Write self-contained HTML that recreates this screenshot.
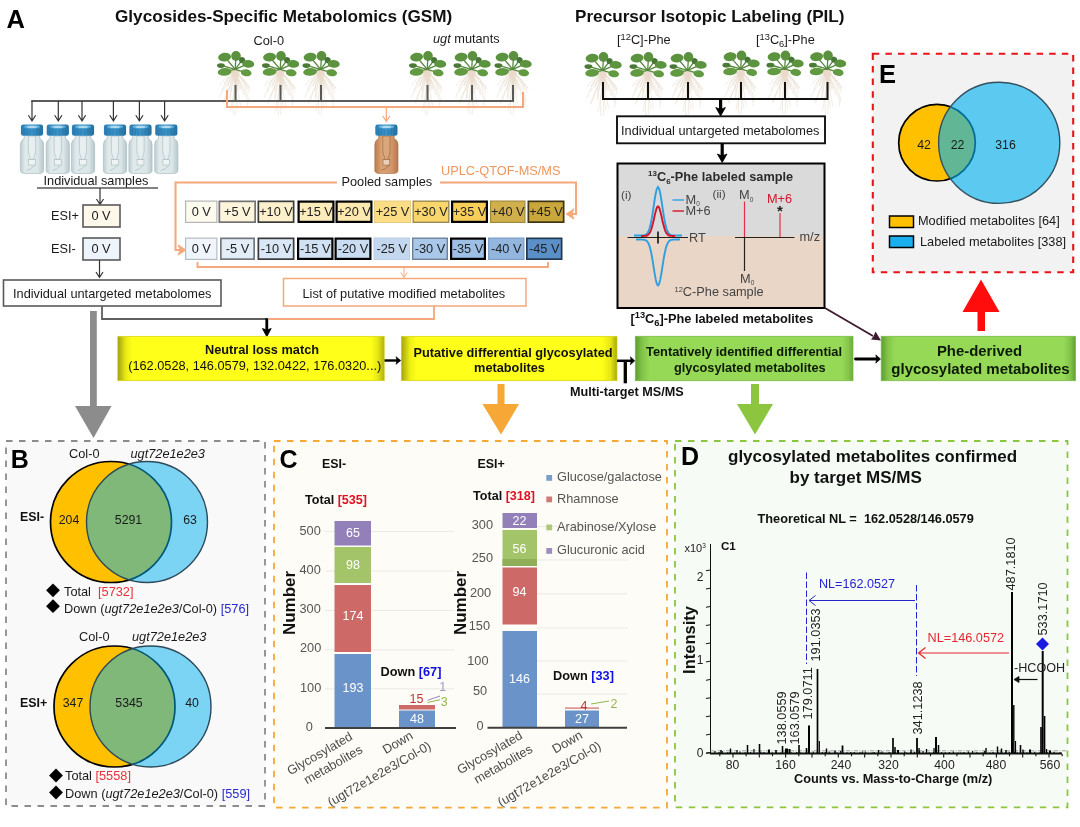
<!DOCTYPE html>
<html lang="en"><head><meta charset="utf-8"><title>GSM and PIL workflow</title>
<style>
html,body{margin:0;padding:0;background:#fff;}
svg{display:block;}
text{font-family:"Liberation Sans",sans-serif;}
</style></head><body>
<svg width="1080" height="827" viewBox="0 0 1080 827">
<defs>
<linearGradient id="gy1" x1="0" x2="1" y1="0" y2="0">
 <stop offset="0" stop-color="#a0a012"/><stop offset="0.03" stop-color="#eaea14"/><stop offset="0.055" stop-color="#ffff1a"/>
 <stop offset="0.95" stop-color="#ffff1a"/><stop offset="0.975" stop-color="#e8e814"/><stop offset="1" stop-color="#b0b012"/></linearGradient>
<linearGradient id="gy2" x1="0" x2="1" y1="0" y2="0">
 <stop offset="0" stop-color="#a3a312"/><stop offset="0.04" stop-color="#eeee14"/><stop offset="0.07" stop-color="#ffff1a"/>
 <stop offset="0.93" stop-color="#ffff1a"/><stop offset="0.97" stop-color="#e6e614"/><stop offset="1" stop-color="#a8a812"/></linearGradient>
<linearGradient id="gg1" x1="0" x2="1" y1="0" y2="0">
 <stop offset="0" stop-color="#5c9c33"/><stop offset="0.03" stop-color="#80c247"/><stop offset="0.065" stop-color="#95d957"/>
 <stop offset="0.95" stop-color="#95d957"/><stop offset="0.98" stop-color="#84c54a"/><stop offset="1" stop-color="#6aaa3a"/></linearGradient>
<linearGradient id="gg2" x1="0" x2="1" y1="0" y2="0">
 <stop offset="0" stop-color="#5c9c33"/><stop offset="0.035" stop-color="#84c54a"/><stop offset="0.07" stop-color="#95d957"/>
 <stop offset="0.94" stop-color="#95d957"/><stop offset="0.975" stop-color="#80c247"/><stop offset="1" stop-color="#5f9f35"/></linearGradient>
<linearGradient id="gcap" x1="0" x2="1" y1="0" y2="0">
 <stop offset="0" stop-color="#2a7db3"/><stop offset="0.5" stop-color="#3a93c9"/><stop offset="1" stop-color="#23709f"/></linearGradient>
<linearGradient id="gbody" x1="0" x2="1" y1="0" y2="0">
 <stop offset="0" stop-color="#bccdd1"/><stop offset="0.2" stop-color="#e0eaeb"/><stop offset="0.75" stop-color="#dbe6e8"/><stop offset="1" stop-color="#b7c8cc"/></linearGradient>
<linearGradient id="gbodyo" x1="0" x2="1" y1="0" y2="0">
 <stop offset="0" stop-color="#bd7d4d"/><stop offset="0.3" stop-color="#d9a377"/><stop offset="0.75" stop-color="#d0956a"/><stop offset="1" stop-color="#b87646"/></linearGradient>

<g id="plant"><path d="M0,2C-3.6,5.9 -13.9,12.2 -15.3,17.0 M0,2C-3.9,4.8 -7.1,10.0 -9.6,13.9 M0,2C-0.3,5.7 -10.9,11.6 -11.3,16.2 M0,2C-2.0,7.8 -14.2,16.0 -12.7,22.2 M0,2C-3.1,10.2 -13.8,20.9 -16.0,29.0 M0,2C-0.5,6.2 -6.9,12.8 -7.9,17.7 M0,2C-0.0,6.1 -7.3,12.5 -7.5,17.4 M0,2C-1.6,12.2 -9.4,25.0 -12.5,34.7 M0,2C-2.5,11.8 -8.3,24.3 -11.5,33.8 M0,2C-2.4,7.8 -6.4,16.0 -4.9,22.2 M0,2C-0.5,10.7 -6.1,21.9 -5.2,30.5 M0,2C-1.6,10.3 -4.2,21.2 -4.9,29.4 M0,2C-0.2,14.8 -2.0,30.4 -4.8,42.2 M0,2C0.3,16.1 -3.7,33.1 -1.7,46.0 M0,2C1.7,16.1 0.9,33.1 0.5,45.9 M0,2C1.6,9.6 1.6,19.8 1.2,27.5 M0,2C1.7,8.4 4.1,17.3 1.2,24.0 M0,2C0.3,14.2 1.0,29.2 3.3,40.6 M0,2C2.6,13.4 2.8,27.5 5.8,38.2 M0,2C1.8,7.4 3.4,15.2 4.6,21.1 M0,2C2.4,13.3 14.5,27.3 12.1,37.9 M0,2C1.6,7.2 2.8,14.9 6.0,20.7 M0,2C2.2,9.2 6.4,18.9 8.9,26.2 M0,2C1.9,11.8 15.2,24.2 13.1,33.7 M0,2C2.1,7.5 11.0,15.4 11.5,21.4 M0,2C3.0,8.4 13.9,17.3 13.9,24.0 M0,2C2.5,7.1 14.6,14.7 13.9,20.4 M0,2C4.2,6.4 11.1,13.1 11.6,18.3 M0,2C1.5,4.5 9.1,9.3 9.1,12.9 M0,2C3.6,7.0 12.2,14.4 15.6,20.1" fill="none" stroke="#e6dacb" stroke-width="0.7" opacity="0.75"/><path d="M-3.500,2Q-1,12 0,24Q1,12 3.500,2Z" fill="#ead9c8" opacity="0.8"/><ellipse cx="0" cy="4.500" rx="4.300" ry="3.800" fill="#ecd8cb" opacity="0.8"/><line x1="0" y1="0.500" x2="-7.9" y2="-8.8" stroke="#55883b" stroke-width="1.3" stroke-linecap="round"/><line x1="0" y1="0.500" x2="0.6" y2="-9.6" stroke="#55883b" stroke-width="1.3" stroke-linecap="round"/><line x1="0" y1="0.500" x2="5.2" y2="-6.5" stroke="#55883b" stroke-width="1.3" stroke-linecap="round"/><line x1="0" y1="0.500" x2="9.8" y2="-3.7" stroke="#55883b" stroke-width="1.3" stroke-linecap="round"/><line x1="0" y1="0.500" x2="-10.7" y2="-2.4" stroke="#55883b" stroke-width="1.3" stroke-linecap="round"/><line x1="0" y1="0.500" x2="-7.9" y2="2.3" stroke="#55883b" stroke-width="1.3" stroke-linecap="round"/><line x1="0" y1="0.500" x2="8.2" y2="3.0" stroke="#55883b" stroke-width="1.3" stroke-linecap="round"/><ellipse cx="-10.6" cy="-11.7" rx="6.5" ry="4.4" fill="#5c933f" transform="rotate(-8 -10.6 -11.7)"/><ellipse cx="0.8" cy="-12.8" rx="4.8" ry="5.0" fill="#5a903e" transform="rotate(0 0.8 -12.8)"/><ellipse cx="6.9" cy="-8.7" rx="3.0" ry="3.0" fill="#487637" transform="rotate(20 6.9 -8.7)"/><ellipse cx="13.0" cy="-4.9" rx="6.0" ry="3.9" fill="#5c933f" transform="rotate(5 13.0 -4.9)"/><ellipse cx="-14.3" cy="-3.2" rx="3.9" ry="2.4" fill="#4b7a37" transform="rotate(0 -14.3 -3.2)"/><ellipse cx="-10.6" cy="3.1" rx="6.9" ry="3.8" fill="#629a42" transform="rotate(-5 -10.6 3.1)"/><ellipse cx="11.0" cy="4.0" rx="5.4" ry="3.5" fill="#629a42" transform="rotate(8 11.0 4.0)"/></g>
<g id="vial"><path d="M-7.8,10L-7.8,14.500Q-11.6,16.500 -11.6,20.500L-11.6,46.500Q-11.6,49.300 -7,49.500L7,49.500Q11.600,49.300 11.600,46.500L11.600,20.500Q11.600,16.500 7.800,14.500L7.800,10Z" fill="url(#gbody)" stroke="#a3b6bb" stroke-width="0.6"/><path d="M-3.600,12L-3.600,27Q-3.400,31 -1.700,33.500L-1.700,35.500L1.700,35.500L1.700,33.500Q3.400,31 3.600,27L3.600,12Z" fill="#eef4f5" fill-opacity="0.55" stroke="#a3b5ba" stroke-width="0.55"/><rect x="-3.400" y="35.500" width="6.800" height="5.500" fill="#ffffff" fill-opacity="0.5" stroke="#a3b5ba" stroke-width="0.55"/><path d="M-5.500,46.500Q-1,45.500 2.500,41.500" fill="none" stroke="#a3b5ba" stroke-width="0.6"/><rect x="-11.100" y="0.500" width="22.200" height="11.300" rx="2.400" fill="url(#gcap)"/><ellipse cx="0" cy="2.700" rx="8" ry="1.700" fill="#62b0da"/><ellipse cx="0" cy="2.900" rx="5" ry="1" fill="#b5daee"/><path d="M-8,5V11M-5,5.500V11.300M-2,5.800V11.500M1.500,5.800V11.500M5,5.500V11.300M8,5V11" stroke="#1f6896" stroke-width="0.6" opacity="0.55"/></g>
<g id="vialo"><path d="M-7.8,10L-7.8,14.500Q-11.6,16.500 -11.6,20.500L-11.6,46.500Q-11.6,49.300 -7,49.500L7,49.500Q11.600,49.300 11.600,46.500L11.600,20.500Q11.600,16.500 7.800,14.500L7.800,10Z" fill="url(#gbodyo)" stroke="#ad6c3e" stroke-width="0.6"/><path d="M-3.600,12L-3.600,27Q-3.400,31 -1.700,33.500L-1.700,35.500L1.700,35.500L1.700,33.500Q3.400,31 3.600,27L3.600,12Z" fill="#dfae85" fill-opacity="0.55" stroke="#9a5c30" stroke-width="0.55"/><rect x="-3.400" y="35.500" width="6.800" height="5.500" fill="#ffffff" fill-opacity="0.5" stroke="#9a5c30" stroke-width="0.55"/><path d="M-5.500,46.500Q-1,45.500 2.500,41.500" fill="none" stroke="#9a5c30" stroke-width="0.6"/><rect x="-11.100" y="0.500" width="22.200" height="11.300" rx="2.400" fill="url(#gcap)"/><ellipse cx="0" cy="2.700" rx="8" ry="1.700" fill="#62b0da"/><ellipse cx="0" cy="2.900" rx="5" ry="1" fill="#b5daee"/><path d="M-8,5V11M-5,5.500V11.300M-2,5.800V11.500M1.500,5.800V11.500M5,5.500V11.300M8,5V11" stroke="#1f6896" stroke-width="0.6" opacity="0.55"/></g>
</defs>
<rect x="0" y="0" width="1080" height="827" fill="#ffffff"/>
<text x="6.5" y="27.5" font-size="25.5" fill="#000" font-weight="bold" >A</text>
<text x="115" y="22" font-size="17.15" fill="#111" font-weight="bold" >Glycosides-Specific Metabolomics (GSM)</text>
<text x="575" y="22" font-size="17.15" fill="#111" font-weight="bold" >Precursor Isotopic Labeling (PIL)</text>
<text x="253.5" y="44.6" font-size="12.75" fill="#1a1a1a" >Col-0</text>
<text x="433" y="43" font-size="12.75" fill="#1a1a1a" ><tspan font-style="italic">ugt</tspan> mutants</text>
<use href="#plant" x="235.2" y="68.8"/>
<use href="#plant" x="280.2" y="68.8"/>
<use href="#plant" x="320.7" y="68.8"/>
<use href="#plant" x="427.2" y="68.8"/>
<use href="#plant" x="471.7" y="68.8"/>
<use href="#plant" x="512.7" y="68.8"/>
<path d="M31.2,101H513" fill="none" stroke="#5c5c5c" stroke-width="1.9"/>
<line x1="235.5" y1="85" x2="235.5" y2="102" stroke="#595959" stroke-width="2"/>
<line x1="280.5" y1="85" x2="280.5" y2="102" stroke="#595959" stroke-width="2"/>
<line x1="321" y1="85" x2="321" y2="102" stroke="#595959" stroke-width="2"/>
<line x1="427.5" y1="85" x2="427.5" y2="102" stroke="#595959" stroke-width="2"/>
<line x1="472" y1="85" x2="472" y2="102" stroke="#595959" stroke-width="2"/>
<line x1="513" y1="85" x2="513" y2="102" stroke="#595959" stroke-width="2"/>
<path d="M32,101V120.500M28.4,115.300L32,121L35.6,115.300" fill="none" stroke="#333" stroke-width="1.2"/>
<path d="M58.3,101V120.500M54.699999999999996,115.300L58.3,121L61.9,115.300" fill="none" stroke="#333" stroke-width="1.2"/>
<path d="M82,101V120.500M78.4,115.300L82,121L85.6,115.300" fill="none" stroke="#333" stroke-width="1.2"/>
<path d="M113.4,101V120.500M109.80000000000001,115.300L113.4,121L117.0,115.300" fill="none" stroke="#333" stroke-width="1.2"/>
<path d="M139.4,101V120.500M135.8,115.300L139.4,121L143.0,115.300" fill="none" stroke="#333" stroke-width="1.2"/>
<path d="M164.6,101V120.500M161.0,115.300L164.6,121L168.2,115.300" fill="none" stroke="#333" stroke-width="1.2"/>
<use href="#vial" x="32" y="124"/>
<use href="#vial" x="57.8" y="124"/>
<use href="#vial" x="83" y="124"/>
<use href="#vial" x="115" y="124"/>
<use href="#vial" x="140.5" y="124"/>
<use href="#vial" x="166.3" y="124"/>
<text x="43.5" y="184.5" font-size="12.75" fill="#1a1a1a" >Individual samples</text>
<line x1="37" y1="188" x2="158" y2="188" stroke="#595959" stroke-width="1.6"/>
<path d="M100,188V204M96.500,199L100,204.500L103.500,199" fill="none" stroke="#333" stroke-width="1.2"/>
<text x="51" y="219.8" font-size="12.75" fill="#1a1a1a" >ESI+</text>
<rect x="83" y="205" width="37" height="22" fill="#fdf8e9" stroke="#595959" stroke-width="1.6"/>
<text x="101" y="220" font-size="12.75" text-anchor="middle" fill="#1a1a1a" >0 V</text>
<text x="51" y="252.5" font-size="12.75" fill="#1a1a1a" >ESI-</text>
<rect x="83" y="238" width="37" height="22" fill="#eef4fb" stroke="#595959" stroke-width="1.6"/>
<text x="101" y="253" font-size="12.75" text-anchor="middle" fill="#1a1a1a" >0 V</text>
<path d="M99.500,260V277M96,272L99.500,277.500L103,272" fill="none" stroke="#333" stroke-width="1.2"/>
<rect x="3.500" y="280" width="217.500" height="26" fill="#fff" stroke="#595959" stroke-width="1.6"/>
<text x="13" y="297.8" font-size="12.75" fill="#1a1a1a" >Individual untargeted metabolomes</text>
<path d="M102,306V319H267" fill="none" stroke="#5e5e5e" stroke-width="1.8"/>
<path d="M227,90V107H523V92" fill="none" stroke="#f4a87c" stroke-width="2"/>
<path d="M386.300,107V121M382.800,116L386.300,121.500L389.800,116" fill="none" stroke="#f4a87c" stroke-width="1.2"/>
<use href="#vialo" x="386.400" y="124"/>
<text x="341.5" y="186" font-size="12.75" fill="#1a1a1a" >Pooled samples</text>
<text x="441" y="175.3" font-size="12.75" fill="#f0965f" >UPLC-QTOF-MS/MS</text>
<path d="M337,182.500H175.500V250H184" fill="none" stroke="#f4a87c" stroke-width="2.100"/>
<path d="M178,244.800L186,250L178,255.200L180,250Z" fill="#f4a87c" stroke="#f4a87c" stroke-width="0.800" stroke-linejoin="round"/>
<path d="M440,182.500H576V214H568" fill="none" stroke="#f4a87c" stroke-width="2.100"/>
<path d="M574,208.800L566,214L574,219.200L572,214Z" fill="#f4a87c" stroke="#f4a87c" stroke-width="0.800" stroke-linejoin="round"/>
<rect x="185.60" y="201.10" width="31.30" height="21.30" fill="#fdfaee" stroke="#b5b5b5" stroke-width="1.2"/>
<text x="201.25" y="216.3" font-size="12.75" text-anchor="middle" fill="#222" >0 V</text>
<rect x="219.35" y="201.35" width="35.80" height="20.80" fill="#fdf4dc" stroke="#727272" stroke-width="1.7"/>
<text x="237.25" y="216.3" font-size="12.75" text-anchor="middle" fill="#222" >+5 V</text>
<rect x="258.35" y="201.35" width="35.30" height="20.80" fill="#fdf1cd" stroke="#3a3a3a" stroke-width="1.7"/>
<text x="276.0" y="216.3" font-size="12.75" text-anchor="middle" fill="#222" >+10 V</text>
<rect x="298.60" y="201.60" width="34.80" height="20.30" fill="#fdecbb" stroke="#000" stroke-width="2.2"/>
<text x="316.0" y="216.3" font-size="12.75" text-anchor="middle" fill="#222" >+15 V</text>
<rect x="336.60" y="201.60" width="34.80" height="20.30" fill="#fde9b0" stroke="#000" stroke-width="2.2"/>
<text x="354.0" y="216.3" font-size="12.75" text-anchor="middle" fill="#222" >+20 V</text>
<rect x="374.50" y="201.00" width="36.00" height="21.50" fill="#fbdd85" stroke="#e8cd80" stroke-width="1"/>
<text x="392.5" y="216.3" font-size="12.75" text-anchor="middle" fill="#222" >+25 V</text>
<rect x="413.20" y="201.20" width="35.60" height="21.10" fill="#f9d66c" stroke="#9a8a55" stroke-width="1.4"/>
<text x="431.0" y="216.3" font-size="12.75" text-anchor="middle" fill="#222" >+30 V</text>
<rect x="452.10" y="201.60" width="34.80" height="20.30" fill="#f7cf58" stroke="#000" stroke-width="2.2"/>
<text x="469.5" y="216.3" font-size="12.75" text-anchor="middle" fill="#222" >+35 V</text>
<rect x="490.60" y="201.10" width="34.30" height="21.30" fill="#d0af4c" stroke="#a08a3c" stroke-width="1.2"/>
<text x="507.75" y="216.3" font-size="12.75" text-anchor="middle" fill="#222" >+40 V</text>
<rect x="528.35" y="201.35" width="35.30" height="20.80" fill="#c9a73b" stroke="#3f3515" stroke-width="1.7"/>
<text x="546.0" y="216.3" font-size="12.75" text-anchor="middle" fill="#222" >+45 V</text>
<rect x="185.60" y="238.10" width="31.30" height="21.30" fill="#f0f5fb" stroke="#b5bcc5" stroke-width="1.2"/>
<text x="201.25" y="253.3" font-size="12.75" text-anchor="middle" fill="#222" >0 V</text>
<rect x="220.85" y="238.35" width="33.30" height="20.80" fill="#e3edf8" stroke="#72777e" stroke-width="1.7"/>
<text x="237.5" y="253.3" font-size="12.75" text-anchor="middle" fill="#222" >-5 V</text>
<rect x="258.35" y="238.35" width="35.30" height="20.80" fill="#d9e7f6" stroke="#3a3a3a" stroke-width="1.7"/>
<text x="276.0" y="253.3" font-size="12.75" text-anchor="middle" fill="#222" >-10 V</text>
<rect x="298.10" y="238.60" width="34.30" height="20.30" fill="#d0e1f4" stroke="#000" stroke-width="2.2"/>
<text x="315.25" y="253.3" font-size="12.75" text-anchor="middle" fill="#222" >-15 V</text>
<rect x="335.60" y="238.60" width="34.80" height="20.30" fill="#c9dcf2" stroke="#000" stroke-width="2.2"/>
<text x="353.0" y="253.3" font-size="12.75" text-anchor="middle" fill="#222" >-20 V</text>
<rect x="374.00" y="238.00" width="35.50" height="21.50" fill="#c3d8ef" stroke="#b9cde4" stroke-width="1"/>
<text x="391.75" y="253.3" font-size="12.75" text-anchor="middle" fill="#222" >-25 V</text>
<rect x="412.70" y="238.20" width="34.60" height="21.10" fill="#a9c7e9" stroke="#6f8196" stroke-width="1.4"/>
<text x="430.0" y="253.3" font-size="12.75" text-anchor="middle" fill="#222" >-30 V</text>
<rect x="451.10" y="238.60" width="33.80" height="20.30" fill="#9dbfe6" stroke="#000" stroke-width="2.2"/>
<text x="468.0" y="253.3" font-size="12.75" text-anchor="middle" fill="#222" >-35 V</text>
<rect x="488.60" y="238.10" width="35.30" height="21.30" fill="#92b6de" stroke="#7d9fc6" stroke-width="1.2"/>
<text x="506.25" y="253.3" font-size="12.75" text-anchor="middle" fill="#222" >-40 V</text>
<rect x="526.85" y="238.35" width="34.80" height="20.80" fill="#5b8fc7" stroke="#22384f" stroke-width="1.7"/>
<text x="544.25" y="253.3" font-size="12.75" text-anchor="middle" fill="#222" >-45 V</text>
<path d="M197.500,262V267H548V262" fill="none" stroke="#f4a87c" stroke-width="1.900"/>
<path d="M404,267V277M400.800,272.500L404,277.500L407.200,272.500" fill="none" stroke="#f4a87c" stroke-width="1"/>
<rect x="283.500" y="278.500" width="242.500" height="27.500" fill="#fff" stroke="#f4a87c" stroke-width="1.5"/>
<text x="302.5" y="297.5" font-size="12.75" fill="#1a1a1a" >List of putative modified metabolites</text>
<path d="M434,306V319H268.500" fill="none" stroke="#f4a87c" stroke-width="1.8"/>
<path d="M266.800,318.200V330" stroke="#000" stroke-width="2.800" fill="none"/><path d="M262.400,328.500L266.800,336.800L271.200,328.500L266.800,330Z" fill="#000" stroke="#000" stroke-width="0.8" stroke-linejoin="round"/>
<use href="#plant" x="602.7" y="69.8"/>
<use href="#plant" x="647.7" y="69.8"/>
<use href="#plant" x="687.7" y="69.8"/>
<use href="#plant" x="740.7" y="68.4"/>
<use href="#plant" x="784.7" y="68.4"/>
<use href="#plant" x="827.2" y="68.4"/>
<path d="M603,82V99.1H827.500V82" fill="none" stroke="#111" stroke-width="2"/>
<line x1="648" y1="82" x2="648" y2="99" stroke="#111" stroke-width="2"/>
<line x1="688" y1="82" x2="688" y2="99" stroke="#111" stroke-width="2"/>
<line x1="741" y1="82" x2="741" y2="99" stroke="#111" stroke-width="2"/>
<line x1="785" y1="82" x2="785" y2="99" stroke="#111" stroke-width="2"/>
<path d="M720.600,99V110" stroke="#000" stroke-width="3.200"/><path d="M715.800,107.500L720.600,116L725.400,107.500L720.600,109.500Z" fill="#000" stroke="#000" stroke-width="0.8" stroke-linejoin="round"/>
<text x="617" y="44" font-size="12.75" fill="#1a1a1a" >[<tspan font-size="9.3" dy="-4.500">12</tspan><tspan dy="4.500">C]-Phe</tspan></text>
<text x="756" y="44" font-size="12.75" fill="#1a1a1a" >[<tspan font-size="9.3" dy="-4.500">13</tspan><tspan dy="4.500">C</tspan><tspan font-size="9.3" dy="3">6</tspan><tspan dy="-3">]-Phe</tspan></text>
<rect x="617" y="116.300" width="208" height="27" fill="#fff" stroke="#111" stroke-width="1.9"/>
<text x="621" y="135.3" font-size="12.75" fill="#1a1a1a" >Individual untargeted metabolomes</text>
<path d="M722.200,143.500V156" stroke="#000" stroke-width="3.200"/><path d="M717.400,154L722.200,162.500L727,154L722.200,156Z" fill="#000" stroke="#000" stroke-width="0.8" stroke-linejoin="round"/>
<rect x="617.500" y="163.500" width="207" height="72.500" fill="#dadada"/>
<rect x="617.500" y="236" width="207" height="72" fill="#e9d6c6"/>
<rect x="617.500" y="163.500" width="207" height="144.500" fill="none" stroke="#000" stroke-width="2"/>
<text x="648" y="180.5" font-size="12.75" fill="#2b2b2b" font-weight="bold" ><tspan font-size="8" dy="-4.500">13</tspan><tspan dy="4.500">C</tspan><tspan font-size="8" dy="3">6</tspan><tspan dy="-3">-Phe labeled sample</tspan></text>
<text x="621" y="198.5" font-size="11.8" fill="#444" >(i)</text>
<text x="712.5" y="198" font-size="11.8" fill="#444" >(ii)</text>
<path d="M634.0,235.5L635.2,235.5L636.4,235.5L637.6,235.5L638.8,235.5L640.0,235.5L641.2,235.5L642.4,235.4L643.6,235.3L644.8,235.1L646.0,234.5L647.2,233.4L648.4,231.5L649.6,228.3L650.8,223.6L652.0,217.2L653.2,209.5L654.4,201.3L655.6,194.0L656.8,188.9L658.0,187.0L659.2,188.9L660.4,194.0L661.6,201.3L662.8,209.5L664.0,217.2L665.2,223.6L666.4,228.3L667.6,231.5L668.8,233.4L670.0,234.5L671.2,235.1L672.4,235.3L673.6,235.4L674.8,235.5L676.0,235.5L677.2,235.5L678.4,235.5L679.6,235.5L680.8,235.5L682.0,235.5" fill="none" stroke="#2f9fe0" stroke-width="1.9"/>
<path d="M641.0,236.0L641.9,236.0L642.7,236.0L643.5,236.0L644.4,235.9L645.2,235.9L646.1,235.7L647.0,235.5L647.8,235.0L648.6,234.3L649.5,233.3L650.4,231.7L651.2,229.5L652.0,226.8L652.9,223.5L653.8,219.7L654.6,215.8L655.5,212.2L656.3,209.2L657.1,207.2L658.0,206.5L658.9,207.2L659.7,209.2L660.5,212.2L661.4,215.8L662.2,219.7L663.1,223.5L664.0,226.8L664.8,229.5L665.6,231.7L666.5,233.3L667.4,234.3L668.2,235.0L669.0,235.5L669.9,235.7L670.8,235.9L671.6,235.9L672.5,236.0L673.3,236.0L674.1,236.0L675.0,236.0" fill="none" stroke="#d4142a" stroke-width="1.9"/>
<path d="M636.0,239.5L637.1,239.5L638.2,239.5L639.3,239.5L640.4,239.5L641.5,239.5L642.6,239.6L643.7,239.7L644.8,239.9L645.9,240.4L647.0,241.2L648.1,242.7L649.2,245.2L650.3,248.8L651.4,253.7L652.5,259.8L653.6,266.8L654.7,273.8L655.8,279.9L656.9,284.0L658.0,285.5L659.1,284.0L660.2,279.9L661.3,273.8L662.4,266.8L663.5,259.8L664.6,253.7L665.7,248.8L666.8,245.2L667.9,242.7L669.0,241.2L670.1,240.4L671.2,239.9L672.3,239.7L673.4,239.6L674.5,239.5L675.6,239.5L676.7,239.5L677.8,239.5L678.9,239.5L680.0,239.5" fill="none" stroke="#2f9fe0" stroke-width="1.9"/>
<line x1="627.500" y1="237.500" x2="688" y2="237.500" stroke="#222" stroke-width="1.1"/>
<line x1="658" y1="231.500" x2="658" y2="243.500" stroke="#111" stroke-width="1.6"/>
<line x1="672.500" y1="200" x2="684" y2="200" stroke="#2f9fe0" stroke-width="1.4"/>
<line x1="672.500" y1="211" x2="684" y2="211" stroke="#d4142a" stroke-width="1.4"/>
<text x="685.5" y="203.5" font-size="12.75" fill="#444" >M<tspan font-size="6.500" dy="2.500">0</tspan></text>
<text x="685.5" y="215" font-size="12.75" fill="#444" >M+6</text>
<text x="689" y="241.5" font-size="12.75" fill="#444" >RT</text>
<text x="739" y="199" font-size="12.75" fill="#444" >M<tspan font-size="6.500" dy="2.500">0</tspan></text>
<text x="767" y="202.5" font-size="12.75" fill="#d4142a" >M+6</text>
<text x="780" y="215.5" font-size="15" text-anchor="middle" fill="#222" font-weight="bold" >*</text>
<line x1="744.500" y1="201.500" x2="744.500" y2="237.500" stroke="#e0304a" stroke-width="1.2"/>
<line x1="780" y1="213" x2="780" y2="237.500" stroke="#e0304a" stroke-width="1.2"/>
<line x1="744.500" y1="237.500" x2="744.500" y2="271" stroke="#222" stroke-width="1.2"/>
<line x1="735" y1="237.500" x2="794.500" y2="237.500" stroke="#222" stroke-width="1.1"/>
<text x="799.5" y="241" font-size="12.75" fill="#444" >m/z</text>
<text x="740" y="282.5" font-size="12.75" fill="#444" >M<tspan font-size="6.500" dy="2.500">0</tspan></text>
<text x="674.5" y="296" font-size="12.75" fill="#444" ><tspan font-size="7.500" dy="-4">12</tspan><tspan dy="4">C-Phe sample</tspan></text>
<text x="630.5" y="322.5" font-size="12.75" fill="#111" font-weight="bold" >[<tspan font-size="9.3" dy="-4.500">13</tspan><tspan dy="4.500">C</tspan><tspan font-size="9.3" dy="3">6</tspan><tspan dy="-3">]-Phe labeled metabolites</tspan></text>
<path d="M825,308L873,336" stroke="#3d1a2e" stroke-width="1.8"/><path d="M881,340.500L871,339.500L873.500,336.200L875.500,331.500Z" fill="#3d1a2e"/>
<rect x="117.800" y="336.300" width="266.400" height="44.400" fill="url(#gy1)" stroke="#d2d20e" stroke-width="0.7"/>
<text x="262" y="353.6" font-size="12.75" text-anchor="middle" fill="#111" font-weight="bold" >Neutral loss match</text>
<text x="254.7" y="370" font-size="12.75" text-anchor="middle" fill="#111" >(162.0528, 146.0579, 132.0422, 176.0320...)</text>
<path d="M384.500,360.500H397.500" stroke="#000" stroke-width="2.400"/><path d="M396,356.700L400.800,360.500L396,364.300L397,360.500Z" fill="#000" stroke="#000" stroke-width="0.600"/>
<rect x="401.300" y="336.300" width="215.700" height="44.400" fill="url(#gy2)" stroke="#d2d20e" stroke-width="0.7"/>
<text x="513" y="356.8" font-size="12.75" text-anchor="middle" fill="#111" font-weight="bold" >Putative differential glycosylated</text>
<text x="509.5" y="372" font-size="12.75" text-anchor="middle" fill="#111" font-weight="bold" >metabolites</text>
<path d="M617,360.800H632" stroke="#000" stroke-width="2.500" fill="none"/><path d="M625.300,360.800V383.300" stroke="#000" stroke-width="3.300" fill="none"/><path d="M630.300,356.800L634.800,360.800L630.300,364.800L631.300,360.800Z" fill="#000" stroke="#000" stroke-width="0.600"/>
<text x="570" y="395.7" font-size="12.65" fill="#111" font-weight="bold" >Multi-target MS/MS</text>
<rect x="635.300" y="336.300" width="217.700" height="44.400" fill="url(#gg1)" stroke="#7cbb45" stroke-width="0.8"/>
<text x="646" y="356.4" font-size="12.85" fill="#0d1a05" font-weight="bold" >Tentatively identified differential</text>
<text x="674" y="371.6" font-size="12.75" fill="#0d1a05" font-weight="bold" >glycosylated metabolites</text>
<path d="M855.500,359H877" stroke="#000" stroke-width="2.800" stroke-linecap="round"/><path d="M875.800,354.900L880.500,359L875.800,363.100L876.800,359Z" fill="#000" stroke="#000" stroke-width="0.700"/>
<rect x="881.200" y="336.300" width="194.300" height="44.400" fill="url(#gg2)" stroke="#7cbb45" stroke-width="0.8"/>
<text x="979.5" y="356.3" font-size="14.9" text-anchor="middle" fill="#0d1a05" font-weight="bold" >Phe-derived</text>
<text x="980.5" y="374" font-size="15" text-anchor="middle" fill="#0d1a05" font-weight="bold" >glycosylated metabolites</text>
<path d="M90,311H96.800V406H111.500L93.500,438L75,406H90Z" fill="#8c8c8c"/>
<path d="M497.500,384H504.500V404H519L501,434.500L482.500,404H497.500Z" fill="#f6a735"/>
<path d="M751,384H759V404H773L755,434.500L737,404H751Z" fill="#8cc63f"/>
<path d="M977.500,331H985V312H999.500L981,279.500L962.500,312H977.500Z" fill="#ff0d0d"/>
<rect x="872.800" y="53.700" width="200.400" height="218.500" fill="#f2f2f2"/>
<rect x="872.800" y="53.700" width="200.400" height="218.500" fill="none" stroke="#e8141c" stroke-width="2.100" stroke-dasharray="6.500 6.100"/>
<text x="879" y="83" font-size="25.5" fill="#000" font-weight="bold" >E</text>
<circle cx="937" cy="142.700" r="38.300" fill="#ffc000" stroke="#000" stroke-width="1.7"/>
<circle cx="999.200" cy="142.800" r="60.600" fill="#00b0f0" fill-opacity="0.62" stroke="#34505f" stroke-width="1.4"/>
<text x="924" y="148.7" font-size="12.3" text-anchor="middle" fill="#1a1a1a" >42</text>
<text x="957.5" y="148.7" font-size="12.3" text-anchor="middle" fill="#1a1a1a" >22</text>
<text x="1005.5" y="148.7" font-size="12.3" text-anchor="middle" fill="#1a1a1a" >316</text>
<rect x="889.500" y="216" width="24" height="11.500" fill="#ffc000" stroke="#000" stroke-width="1.5"/>
<rect x="889.500" y="236" width="24" height="11.500" fill="#1ab0f0" stroke="#000" stroke-width="1.5"/>
<text x="918" y="225.3" font-size="12.75" fill="#1a1a1a" >Modified metabolites [64]</text>
<text x="920" y="245.8" font-size="12.75" fill="#1a1a1a" >Labeled metabolites [338]</text>
<rect x="6" y="441" width="259" height="365" fill="#f9f9f9"/>
<rect x="6" y="441" width="259" height="365" fill="none" stroke="#8c8c8c" stroke-width="1.8" stroke-dasharray="6.500 6.500"/>
<text x="10.8" y="468" font-size="25" fill="#000" font-weight="bold" >B</text>
<circle cx="111" cy="522" r="60.5" fill="#ffc000" stroke="#000" stroke-width="1.7"/>
<circle cx="147" cy="522" r="60.5" fill="#00b0f0" fill-opacity="0.5" stroke="#2c4a5a" stroke-width="1.4"/>
<text x="69" y="458" font-size="12.75" fill="#1a1a1a" >Col-0</text>
<text x="130.5" y="458" font-size="12.75" fill="#1a1a1a" font-style="italic" >ugt72e1e2e3</text>
<text x="20" y="520.5" font-size="12.4" fill="#111" font-weight="bold" >ESI-</text>
<text x="69" y="524.2" font-size="12.3" text-anchor="middle" fill="#1a1a1a" >204</text>
<text x="128.5" y="524.2" font-size="12.3" text-anchor="middle" fill="#1a1a1a" >5291</text>
<text x="190" y="524.2" font-size="12.3" text-anchor="middle" fill="#1a1a1a" >63</text>
<circle cx="114.5" cy="706.5" r="60.5" fill="#ffc000" stroke="#000" stroke-width="1.7"/>
<circle cx="150.5" cy="706.5" r="60.5" fill="#00b0f0" fill-opacity="0.5" stroke="#2c4a5a" stroke-width="1.4"/>
<text x="79" y="641" font-size="12.75" fill="#1a1a1a" >Col-0</text>
<text x="132" y="641" font-size="12.75" fill="#1a1a1a" font-style="italic" >ugt72e1e2e3</text>
<text x="20" y="706.5" font-size="12.4" fill="#111" font-weight="bold" >ESI+</text>
<text x="73" y="706.8" font-size="12.3" text-anchor="middle" fill="#1a1a1a" >347</text>
<text x="129" y="706.8" font-size="12.3" text-anchor="middle" fill="#1a1a1a" >5345</text>
<text x="192" y="706.8" font-size="12.3" text-anchor="middle" fill="#1a1a1a" >40</text>
<path d="M46.1,590.3L53,583.4L59.9,590.3L53,597.1999999999999Z" fill="#000"/>
<path d="M46.1,606.2L53,599.3000000000001L59.9,606.2L53,613.1Z" fill="#000"/>
<text x="64" y="596" font-size="12.75" fill="#1a1a1a" >Total</text>
<text x="98" y="596" font-size="12.75" fill="#e8303a" >[5732]</text>
<text x="64" y="612.5" font-size="12.75" fill="#1a1a1a" >Down (<tspan font-style="italic">ugt72e1e2e3</tspan>/Col-0) <tspan fill="#2a2ad0">[576]</tspan></text>
<path d="M49.1,775.5L56,768.6L62.9,775.5L56,782.4Z" fill="#000"/>
<path d="M49.1,792.5L56,785.6L62.9,792.5L56,799.4Z" fill="#000"/>
<text x="65" y="780" font-size="12.75" fill="#1a1a1a" >Total <tspan fill="#e8303a">[5558]</tspan></text>
<text x="65" y="797.5" font-size="12.75" fill="#1a1a1a" >Down (<tspan font-style="italic">ugt72e1e2e3</tspan>/Col-0) <tspan fill="#2a2ad0">[559]</tspan></text>
<rect x="274" y="441" width="393" height="366.600" fill="#fdfcf7"/>
<rect x="274" y="441" width="393" height="366.600" fill="none" stroke="#f5a833" stroke-width="1.8" stroke-dasharray="6.500 6.500"/>
<text x="279.5" y="467.5" font-size="25" fill="#000" font-weight="bold" >C</text>
<text x="322" y="468" font-size="12.4" fill="#111" font-weight="bold" >ESI-</text>
<text x="477.5" y="468" font-size="12.4" fill="#111" font-weight="bold" >ESI+</text>
<text x="305" y="504" font-size="12.6" fill="#111" font-weight="bold" >Total <tspan fill="#e01020">[535]</tspan></text>
<text x="473" y="499.5" font-size="12.6" fill="#111" font-weight="bold" >Total <tspan fill="#e01020">[318]</tspan></text>
<line x1="325" y1="531.5" x2="454" y2="531.5" stroke="#eceae5" stroke-width="1"/>
<line x1="325" y1="571.0" x2="454" y2="571.0" stroke="#eceae5" stroke-width="1"/>
<line x1="325" y1="610.5" x2="454" y2="610.5" stroke="#eceae5" stroke-width="1"/>
<line x1="325" y1="649.8" x2="454" y2="649.8" stroke="#eceae5" stroke-width="1"/>
<line x1="325" y1="688.8" x2="454" y2="688.8" stroke="#eceae5" stroke-width="1"/>
<text x="312.8" y="730.7" font-size="12.75" text-anchor="end" fill="#555" >0</text>
<text x="321.3" y="692.4" font-size="12.75" text-anchor="end" fill="#555" >100</text>
<text x="321.3" y="652.4" font-size="12.75" text-anchor="end" fill="#555" >200</text>
<text x="320.8" y="613.4" font-size="12.75" text-anchor="end" fill="#555" >300</text>
<text x="320.8" y="574.4" font-size="12.75" text-anchor="end" fill="#555" >400</text>
<text x="320.8" y="535.4" font-size="12.75" text-anchor="end" fill="#555" >500</text>
<rect x="334.5" y="654.0" width="36.5" height="73.0" fill="#6a93c9"/>
<rect x="334.5" y="585.0" width="36.5" height="67.0" fill="#cd6a68"/>
<rect x="334.5" y="547.0" width="36.5" height="36.0" fill="#a3c468"/>
<rect x="334.5" y="521.0" width="36.5" height="24.5" fill="#9480b8"/>
<text x="353" y="692" font-size="12.5" text-anchor="middle" fill="#fff" >193</text>
<text x="353" y="620" font-size="12.5" text-anchor="middle" fill="#fff" >174</text>
<text x="353" y="569" font-size="12.5" text-anchor="middle" fill="#fff" >98</text>
<text x="353" y="536.8" font-size="12.5" text-anchor="middle" fill="#fff" >65</text>
<rect x="399" y="710.5" width="36" height="16.5" fill="#6a93c9"/>
<rect x="399" y="705.0" width="36" height="4.5" fill="#cd6a68"/>
<text x="417" y="723.3" font-size="12.5" text-anchor="middle" fill="#fff" >48</text>
<text x="416.5" y="703.2" font-size="12.5" text-anchor="middle" fill="#c0333a" >15</text>
<text x="442.7" y="691.2" font-size="12.5" text-anchor="middle" fill="#a896c8" >1</text>
<text x="444.2" y="706" font-size="12.5" text-anchor="middle" fill="#8fb84a" >3</text>
<line x1="427.500" y1="700.300" x2="440" y2="696" stroke="#9a86c4" stroke-width="1"/>
<line x1="427.500" y1="702.500" x2="440" y2="699.800" stroke="#8fb84a" stroke-width="1"/>
<line x1="325" y1="728" x2="456" y2="728" stroke="#404040" stroke-width="2"/>
<text x="380.5" y="675.5" font-size="12.75" fill="#111" font-weight="bold" >Down <tspan fill="#1010e0">[67]</tspan></text>
<text transform="translate(295,603) rotate(-90)" text-anchor="middle" font-size="17" font-weight="bold" fill="#111">Number</text>
<text transform="translate(353.5,739) rotate(-30)" text-anchor="end" font-size="12.75" fill="#4a4a4a">Glycosylated</text>
<text transform="translate(363.5,752) rotate(-30)" text-anchor="end" font-size="12.75" fill="#4a4a4a">metabolites</text>
<text transform="translate(414,738) rotate(-30)" text-anchor="end" font-size="12.75" fill="#4a4a4a">Down</text>
<text transform="translate(432,748.3) rotate(-30)" text-anchor="end" font-size="12.75" fill="#4a4a4a">(ugt72e1e2e3/Col-0)</text>
<line x1="537" y1="526.5" x2="627.500" y2="526.5" stroke="#eceae5" stroke-width="1"/>
<line x1="537" y1="560.0" x2="627.500" y2="560.0" stroke="#eceae5" stroke-width="1"/>
<line x1="537" y1="593.8" x2="627.500" y2="593.8" stroke="#eceae5" stroke-width="1"/>
<line x1="537" y1="628.0" x2="627.500" y2="628.0" stroke="#eceae5" stroke-width="1"/>
<line x1="537" y1="661.0" x2="627.500" y2="661.0" stroke="#eceae5" stroke-width="1"/>
<line x1="537" y1="694.0" x2="627.500" y2="694.0" stroke="#eceae5" stroke-width="1"/>
<text x="483.5" y="730.4" font-size="12.75" text-anchor="end" fill="#555" >0</text>
<text x="487.2" y="694.9" font-size="12.75" text-anchor="end" fill="#555" >50</text>
<text x="488.5" y="665.4" font-size="12.75" text-anchor="end" fill="#555" >100</text>
<text x="490" y="629.9" font-size="12.75" text-anchor="end" fill="#555" >150</text>
<text x="491.2" y="596.9" font-size="12.75" text-anchor="end" fill="#555" >200</text>
<text x="493" y="561.9" font-size="12.75" text-anchor="end" fill="#555" >250</text>
<text x="493" y="528.9" font-size="12.75" text-anchor="end" fill="#555" >300</text>
<rect x="502.5" y="631.0" width="34.5" height="96.0" fill="#6a93c9"/>
<rect x="502.5" y="567.5" width="34.5" height="57.0" fill="#cd6a68"/>
<rect x="502.5" y="530.0" width="34.5" height="36.0" fill="#a3c468"/>
<rect x="502.5" y="513.0" width="34.5" height="15.0" fill="#9480b8"/>
<rect x="502.500" y="559" width="34.500" height="7" fill="#90ad58"/>
<text x="519.5" y="682.5" font-size="12.5" text-anchor="middle" fill="#fff" >146</text>
<text x="519.5" y="596" font-size="12.5" text-anchor="middle" fill="#fff" >94</text>
<text x="519.5" y="553" font-size="12.5" text-anchor="middle" fill="#fff" >56</text>
<text x="519.5" y="525" font-size="12.5" text-anchor="middle" fill="#fff" >22</text>
<rect x="565" y="710.5" width="34" height="16.5" fill="#6a93c9"/>
<rect x="565" y="707.5" width="34" height="1.2" fill="#cd6a68"/>
<text x="582" y="723.3" font-size="12.5" text-anchor="middle" fill="#fff" >27</text>
<text x="584" y="710" font-size="12.5" text-anchor="middle" fill="#c0333a" >4</text>
<text x="614" y="707.8" font-size="12.5" text-anchor="middle" fill="#8fb84a" >2</text>
<line x1="591" y1="704" x2="609" y2="701" stroke="#8fb84a" stroke-width="1"/>
<line x1="487.500" y1="727.700" x2="627" y2="727.700" stroke="#404040" stroke-width="2"/>
<text x="553" y="679.5" font-size="12.75" fill="#111" font-weight="bold" >Down <tspan fill="#1010e0">[33]</tspan></text>
<text transform="translate(466,603) rotate(-90)" text-anchor="middle" font-size="17" font-weight="bold" fill="#111">Number</text>
<text transform="translate(523.5,738) rotate(-30)" text-anchor="end" font-size="12.75" fill="#4a4a4a">Glycosylated</text>
<text transform="translate(533.5,751.5) rotate(-30)" text-anchor="end" font-size="12.75" fill="#4a4a4a">metabolites</text>
<text transform="translate(583.5,737.5) rotate(-30)" text-anchor="end" font-size="12.75" fill="#4a4a4a">Down</text>
<text transform="translate(602,748.3) rotate(-30)" text-anchor="end" font-size="12.75" fill="#4a4a4a">(ugt72e1e2e3/Col-0)</text>
<rect x="546.300" y="475.0" width="5.800" height="5.800" fill="#6a93c9" opacity="0.9"/>
<text x="557" y="481.3" font-size="12.75" fill="#555" >Glucose/galactose</text>
<rect x="546.300" y="496.5" width="5.800" height="5.800" fill="#cd6a68" opacity="0.9"/>
<text x="557" y="502.8" font-size="12.75" fill="#555" >Rhamnose</text>
<rect x="546.300" y="524.5" width="5.800" height="5.800" fill="#a3c468" opacity="0.9"/>
<text x="557" y="530.8" font-size="12.75" fill="#555" >Arabinose/Xylose</text>
<rect x="546.300" y="548.0" width="5.800" height="5.800" fill="#9480b8" opacity="0.9"/>
<text x="557" y="554.3" font-size="12.75" fill="#555" >Glucuronic acid</text>
<rect x="675" y="441" width="392.500" height="366.300" fill="#f6fbf6"/>
<rect x="675" y="441" width="392.500" height="366.300" fill="none" stroke="#8cc63f" stroke-width="1.8" stroke-dasharray="6.500 6.500"/>
<text x="681" y="464.5" font-size="25" fill="#000" font-weight="bold" >D</text>
<text x="728" y="462" font-size="17" fill="#111" font-weight="bold" >glycosylated metabolites confirmed</text>
<text x="789.5" y="482.5" font-size="17" fill="#111" font-weight="bold" >by target MS/MS</text>
<text x="757.5" y="522.5" font-size="12.75" fill="#111" font-weight="bold" xml:space="preserve">Theoretical NL =  162.0528/146.0579</text>
<text x="721" y="550" font-size="11.6" fill="#111" font-weight="bold" >C1</text>
<text x="684.5" y="552" font-size="11" fill="#222" >x10<tspan font-size="6.500" dy="-4.500">3</tspan></text>
<text x="703.5" y="581" font-size="12" text-anchor="end" fill="#222" >2</text>
<text x="703.5" y="664.3" font-size="12" text-anchor="end" fill="#222" >1</text>
<text x="703.5" y="756.8" font-size="12" text-anchor="end" fill="#222" >0</text>
<text transform="translate(694.800,640) rotate(-90)" text-anchor="middle" font-size="16.500" font-weight="bold" fill="#111">Intensity</text>
<path d="M710.500,544V753" stroke="#111" stroke-width="1" fill="none"/>
<path d="M706,753.3L710,752.5M706,735.0L710,734.2M706,716.8L710,716.0M706,698.5L710,697.8M706,680.3L710,679.5M706,662.0L710,661.2M706,643.8L710,643.0M706,625.5L710,624.8M706,607.3L710,606.5M706,589.0L710,588.2M706,570.8L710,570.0" stroke="#111" stroke-width="1" fill="none"/>
<path d="M710,753.500H1062" stroke="#111" stroke-width="2.200" fill="none"/><path d="M706,753H710" stroke="#111" stroke-width="1.100" fill="none"/>
<path d="M710,750.800H1066" stroke="#777" stroke-width="0.700" stroke-dasharray="4 1.500 1 1.500" fill="none"/>
<path d="M719.8,754V756.3M733.0,754V757.5M746.1,754V756.3M759.3,754V757.5M772.5,754V756.3M785.6,754V757.5M798.8,754V756.3M812.0,754V757.5M825.2,754V756.3M838.3,754V757.5M851.5,754V756.3M864.7,754V757.5M877.8,754V756.3M891.0,754V757.5M904.2,754V756.3M917.3,754V757.5M930.5,754V756.3M943.7,754V757.5M956.9,754V756.3M970.0,754V757.5M983.2,754V756.3M996.4,754V757.5M1009.5,754V756.3M1022.7,754V757.5M1035.9,754V756.3M1049.0,754V757.5M1062.2,754V756.3" stroke="#111" stroke-width="1.1" fill="none"/>
<text x="732.5" y="769" font-size="12.2" text-anchor="middle" fill="#222" >80</text>
<text x="785.5" y="769" font-size="12.2" text-anchor="middle" fill="#222" >160</text>
<text x="841" y="769" font-size="12.2" text-anchor="middle" fill="#222" >240</text>
<text x="888.5" y="769" font-size="12.2" text-anchor="middle" fill="#222" >320</text>
<text x="944.5" y="769" font-size="12.2" text-anchor="middle" fill="#222" >400</text>
<text x="996" y="769" font-size="12.2" text-anchor="middle" fill="#222" >480</text>
<text x="1050" y="769" font-size="12.2" text-anchor="middle" fill="#222" >560</text>
<text x="794" y="782.5" font-size="12.75" fill="#111" font-weight="bold" >Counts vs. Mass-to-Charge (m/z)</text>
<path d="M714.9,753V751.0M719.0,753V752.0M722.3,753V751.0M727.7,753V752.2M730.2,753V752.0M734.4,753V752.5M739.9,753V751.4M745.1,753V752.2M748.2,753V752.4M750.6,753V752.0M757.1,753V752.5M760.9,753V751.7M764.0,753V752.0M768.4,753V752.0M772.4,753V752.4M776.4,753V752.0M780.3,753V752.4M785.3,753V751.7M789.6,753V752.0M791.5,753V752.4M796.7,753V752.0M800.8,753V752.5M806.2,753V752.5M808.4,753V752.5M813.3,753V751.4M817.3,753V752.0M822.4,753V752.0M825.2,753V752.0M829.3,753V751.4M834.7,753V752.4M836.9,753V752.4M840.6,753V751.0M847.1,753V752.2M850.8,753V752.0M854.2,753V752.0M860.0,753V752.2M862.4,753V751.4M865.5,753V751.4M872.3,753V752.5M874.2,753V752.0M880.5,753V752.5M882.2,753V751.4M888.7,753V752.4M889.9,753V752.2M894.5,753V752.0M898.0,753V751.7M904.6,753V751.4M906.4,753V752.4M910.9,753V752.0M914.4,753V751.7M919.6,753V751.0M923.0,753V751.0M929.2,753V752.2M933.4,753V752.2M936.8,753V752.0M941.7,753V752.0M945.3,753V752.2M949.4,753V752.0M953.4,753V751.4M958.0,753V752.4M960.8,753V752.4M963.9,753V752.0M968.4,753V751.4M972.6,753V751.0M976.8,753V752.2M982.8,753V752.4M984.5,753V751.0M989.9,753V752.4M993.1,753V752.0M998.6,753V752.4M1001.3,753V751.0M1005.3,753V752.5M1009.2,753V751.7M1014.4,753V752.2M1017.2,753V752.2M1023.7,753V751.7M1027.1,753V752.2M1031.0,753V752.5M1034.7,753V751.7M1039.5,753V752.5M1041.6,753V752.4M1047.0,753V752.0M1050.7,753V752.4M1054.0,753V751.7M1060.1,753V752.2" stroke="#111" stroke-width="1.2" fill="none"/>
<line x1="721" y1="753" x2="721" y2="750" stroke="#000" stroke-width="1.4"/>
<line x1="730.5" y1="753" x2="730.5" y2="748.5" stroke="#000" stroke-width="1.4"/>
<line x1="737" y1="753" x2="737" y2="750" stroke="#000" stroke-width="1.2"/>
<line x1="747.5" y1="753" x2="747.5" y2="745" stroke="#000" stroke-width="1.5"/>
<line x1="754" y1="753" x2="754" y2="749" stroke="#000" stroke-width="1.2"/>
<line x1="759.5" y1="753" x2="759.5" y2="744" stroke="#000" stroke-width="1.6"/>
<line x1="769" y1="753" x2="769" y2="749.5" stroke="#000" stroke-width="2"/>
<line x1="776" y1="753" x2="776" y2="750" stroke="#000" stroke-width="1.5"/>
<line x1="782.5" y1="753" x2="782.5" y2="746" stroke="#000" stroke-width="1.6"/>
<line x1="786.5" y1="753" x2="786.5" y2="748.5" stroke="#000" stroke-width="3"/>
<line x1="789.5" y1="753" x2="789.5" y2="749" stroke="#000" stroke-width="2"/>
<line x1="799" y1="753" x2="799" y2="745" stroke="#000" stroke-width="1.6"/>
<line x1="806.5" y1="753" x2="806.5" y2="748" stroke="#000" stroke-width="1.6"/>
<line x1="809" y1="753" x2="809" y2="725.5" stroke="#000" stroke-width="2"/>
<line x1="817.5" y1="753" x2="817.5" y2="669" stroke="#000" stroke-width="1.7"/>
<line x1="819.3" y1="753" x2="819.3" y2="741" stroke="#000" stroke-width="1.2"/>
<line x1="826.5" y1="753" x2="826.5" y2="748.5" stroke="#000" stroke-width="1.4"/>
<line x1="842.5" y1="753" x2="842.5" y2="745.5" stroke="#000" stroke-width="1.8"/>
<line x1="835" y1="753" x2="835" y2="750.5" stroke="#000" stroke-width="1.5"/>
<line x1="893" y1="753" x2="893" y2="738" stroke="#000" stroke-width="1.7"/>
<line x1="895" y1="753" x2="895" y2="747" stroke="#000" stroke-width="1.5"/>
<line x1="898" y1="753" x2="898" y2="750" stroke="#000" stroke-width="2"/>
<line x1="917" y1="753" x2="917" y2="738" stroke="#000" stroke-width="1.8"/>
<line x1="919" y1="753" x2="919" y2="748" stroke="#000" stroke-width="1.4"/>
<line x1="936" y1="753" x2="936" y2="737" stroke="#000" stroke-width="2"/>
<line x1="938.5" y1="753" x2="938.5" y2="745" stroke="#000" stroke-width="1.5"/>
<line x1="934" y1="753" x2="934" y2="748" stroke="#000" stroke-width="1.2"/>
<line x1="926.5" y1="753" x2="926.5" y2="749" stroke="#000" stroke-width="1.3"/>
<line x1="911" y1="753" x2="911" y2="749.5" stroke="#000" stroke-width="1.3"/>
<line x1="878.5" y1="753" x2="878.5" y2="750" stroke="#000" stroke-width="1.5"/>
<line x1="986" y1="753" x2="986" y2="748" stroke="#000" stroke-width="1.4"/>
<line x1="997.5" y1="753" x2="997.5" y2="746.5" stroke="#000" stroke-width="1.4"/>
<line x1="1001.5" y1="753" x2="1001.5" y2="748.5" stroke="#000" stroke-width="1.5"/>
<line x1="1006" y1="753" x2="1006" y2="750" stroke="#000" stroke-width="1.5"/>
<line x1="1012" y1="753" x2="1012" y2="592" stroke="#000" stroke-width="2"/>
<line x1="1013.8" y1="753" x2="1013.8" y2="705" stroke="#000" stroke-width="1.4"/>
<line x1="1015.5" y1="753" x2="1015.5" y2="741" stroke="#000" stroke-width="1.2"/>
<line x1="1020.5" y1="753" x2="1020.5" y2="745" stroke="#000" stroke-width="1.6"/>
<line x1="1023" y1="753" x2="1023" y2="749.5" stroke="#000" stroke-width="1.3"/>
<line x1="1030" y1="753" x2="1030" y2="749.5" stroke="#000" stroke-width="2"/>
<line x1="1041" y1="753" x2="1041" y2="727" stroke="#000" stroke-width="1.6"/>
<line x1="1042.7" y1="753" x2="1042.7" y2="651" stroke="#000" stroke-width="2"/>
<line x1="1044.6" y1="753" x2="1044.6" y2="716" stroke="#000" stroke-width="1.5"/>
<line x1="1046.5" y1="753" x2="1046.5" y2="749" stroke="#000" stroke-width="1.3"/>
<line x1="1050" y1="753" x2="1050" y2="750.5" stroke="#000" stroke-width="2"/>
<text transform="translate(786.2,744.5) rotate(-90)" font-size="12.75" fill="#222">138.0559</text>
<text transform="translate(798.7,744.5) rotate(-90)" font-size="12.75" fill="#222">163.0579</text>
<text transform="translate(811.5,719.5) rotate(-90)" font-size="12.75" fill="#222">179.0711</text>
<text transform="translate(820.3,661.5) rotate(-90)" font-size="12.75" fill="#222">191.0353</text>
<text transform="translate(921.5,734.5) rotate(-90)" font-size="12.75" fill="#222">341.1238</text>
<text transform="translate(1014.5,590.5) rotate(-90)" font-size="12.75" fill="#222">487.1810</text>
<text transform="translate(1047,635.5) rotate(-90)" font-size="12.75" fill="#222">533.1710</text>
<path d="M806.500,572.500V664M916.500,585V676" stroke="#2323d0" stroke-width="1" stroke-dasharray="6.500 2.500" fill="none"/>
<text x="819" y="587.5" font-size="12.6" fill="#2323d0" >NL=162.0527</text>
<path d="M915,600.500H809.500M815.500,595.500L809,600.500L815.500,605.500" stroke="#2323d0" stroke-width="1" fill="none"/>
<text x="927.5" y="642" font-size="12.7" fill="#e8262e" >NL=146.0572</text>
<path d="M1009,653H919M925.500,647.500L918.500,653L925.500,658.500" stroke="#e8262e" stroke-width="1.2" fill="none"/>
<path d="M1036,644L1042.500,637.500L1049,644L1042.500,650.500Z" fill="#1a1ae0"/>
<text x="1014" y="672" font-size="12.6" fill="#222" >-HCOOH</text>
<path d="M1037.500,679.500H1015" stroke="#111" stroke-width="1.2" fill="none"/><path d="M1019,676.500L1014,679.500L1019,682.500Z" fill="#111" stroke="#111" stroke-width="0.8"/>
</svg>
</body></html>
